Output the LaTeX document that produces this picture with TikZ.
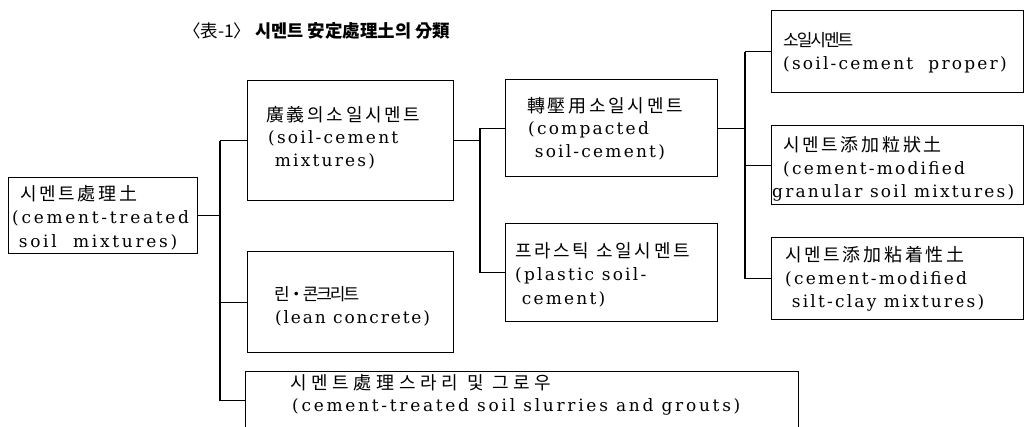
\documentclass[tikz,border=0pt]{standalone}
\usepackage{fontspec}
\setmainfont{Liberation Serif}
\newfontfamily\lat[LetterSpace=13]{DejaVu Serif}
\newfontfamily\kr{Noto Sans CJK KR}
\begin{document}
\begin{tikzpicture}[x=1pt,y=-1pt,
  box/.style={draw, line width=1.3pt, inner sep=0pt, anchor=north west},
  conn/.style={line width=1.3pt},
  en/.style={anchor=base west, inner sep=0pt, font=\fontsize{17}{20}\selectfont\lat},
  ko/.style={anchor=base west, inner sep=0pt, font=\fontsize{18}{21}\selectfont\kr\addfontfeature{LetterSpace=15}},
  kosmall/.style={anchor=base west, inner sep=0pt, font=\fontsize{17}{20}\selectfont\kr\addfontfeature{LetterSpace=-12}},
  ttl/.style={anchor=base west, inner sep=0pt, font=\fontsize{17.5}{20}\selectfont\kr},
]
\useasboundingbox (0,0) rectangle (1026,426);

% title
\node[ttl] (title) at (183,37) {〈表-1〉 {\bfseries 시멘트 安定處理土의 分類}};

% boxes
\node[box, minimum width=189pt, minimum height=76pt]  (root)   at (8,177) {};
\node[box, minimum width=206pt, minimum height=120pt] (B)      at (247,80) {};
\node[box, minimum width=206pt, minimum height=101pt] (lean)   at (247,251) {};
\node[box, minimum width=553pt, minimum height=58pt]  (slurry) at (245,371) {};
\node[box, minimum width=212pt, minimum height=97pt]  (C)      at (505,79) {};
\node[box, minimum width=212pt, minimum height=98pt]  (D)      at (505,223) {};
\node[box, minimum width=252pt, minimum height=82pt]  (E)      at (771,10) {};
\node[box, minimum width=252pt, minimum height=79pt]  (F)      at (771,125) {};
\node[box, minimum width=252pt, minimum height=82pt]  (G)      at (771,237) {};

% bus coordinates
\coordinate (b1) at (220,0);
\coordinate (b2) at (480,0);
\coordinate (b3) at (745,0);

% connectors level 1
\draw[conn] (root.east) -- (root.east -| b1);
\draw[conn] (B.west -| b1) -- (slurry.west -| b1);
\draw[conn] (B.west -| b1) -- (B.west);
\draw[conn] (lean.west -| b1) -- (lean.west);
\draw[conn] (slurry.west -| b1) -- (slurry.west);
% level 2
\draw[conn] (B.east) -- (B.east -| b2);
\draw[conn] (C.west -| b2) -- (D.west -| b2);
\draw[conn] (C.west -| b2) -- (C.west);
\draw[conn] (D.west -| b2) -- (D.west);
% level 3
\draw[conn] (C.east) -- (C.east -| b3);
\draw[conn] (E.west -| b3) -- (G.west -| b3);
\draw[conn] (E.west -| b3) -- (E.west);
\draw[conn] (F.west -| b3) -- (F.west);
\draw[conn] (G.west -| b3) -- (G.west);

% texts
\node[ko] (rootK) at (20,200) {시멘트處理土};
\node[en] (rootL1) at (12,223) {\addfontfeature{LetterSpace=16}(cement-treated};
\node[en] (rootL2) at (12,247) {\addfontfeature{LetterSpace=16}\phantom{(}soil\ \ mixtures)};

\node[ko] (BK) at (266,121) {廣義의소일시멘트};
\node[en] (BL1) at (268,143) {(soil-cement};
\node[en] (BL2) at (268,166) {\phantom{(}mixtures)};

\node[ko] (CK) at (527,112) {轉壓用소일시멘트};
\node[en] (CL1) at (528,134) {(compacted};
\node[en] (CL2) at (528,157) {\phantom{(}soil-cement)};

\node[ko] (DK) at (515,257) {프라스틱 소일시멘트};
\node[en] (DL1) at (515,280) {(plastic soil-};
\node[en] (DL2) at (515,304) {\phantom{(}cement)};

\node[kosmall] (leanK) at (274,300) {린・콘크리트};
\node[en] (leanL) at (275,323) {\addfontfeature{LetterSpace=11}(lean concrete)};

\node[ko] (sK) at (290,389) {\addfontfeature{LetterSpace=26}시멘트處理스라리 및 그로우};
\node[en] (sL) at (292,411) {\addfontfeature{LetterSpace=16}(cement-treated soil slurries and grouts)};

\node[kosmall] (EK) at (783,46) {소일시멘트};
\node[en] (EL) at (783,69) {(soil-cement\ \ proper)};

\node[ko] (FK) at (783,151) {시멘트添加粒狀土};
\node[en] (FL1) at (783,174) {(cement-modified};
\node[en] (FL2) at (772,197) {granular soil mixtures)};

\node[ko] (GK) at (785,261) {시멘트添加粘着性土};
\node[en] (GL1) at (785,284) {(cement-modified};
\node[en] (GL2) at (785,307) {\phantom{(}silt-clay mixtures)};
\end{tikzpicture}
\end{document}
